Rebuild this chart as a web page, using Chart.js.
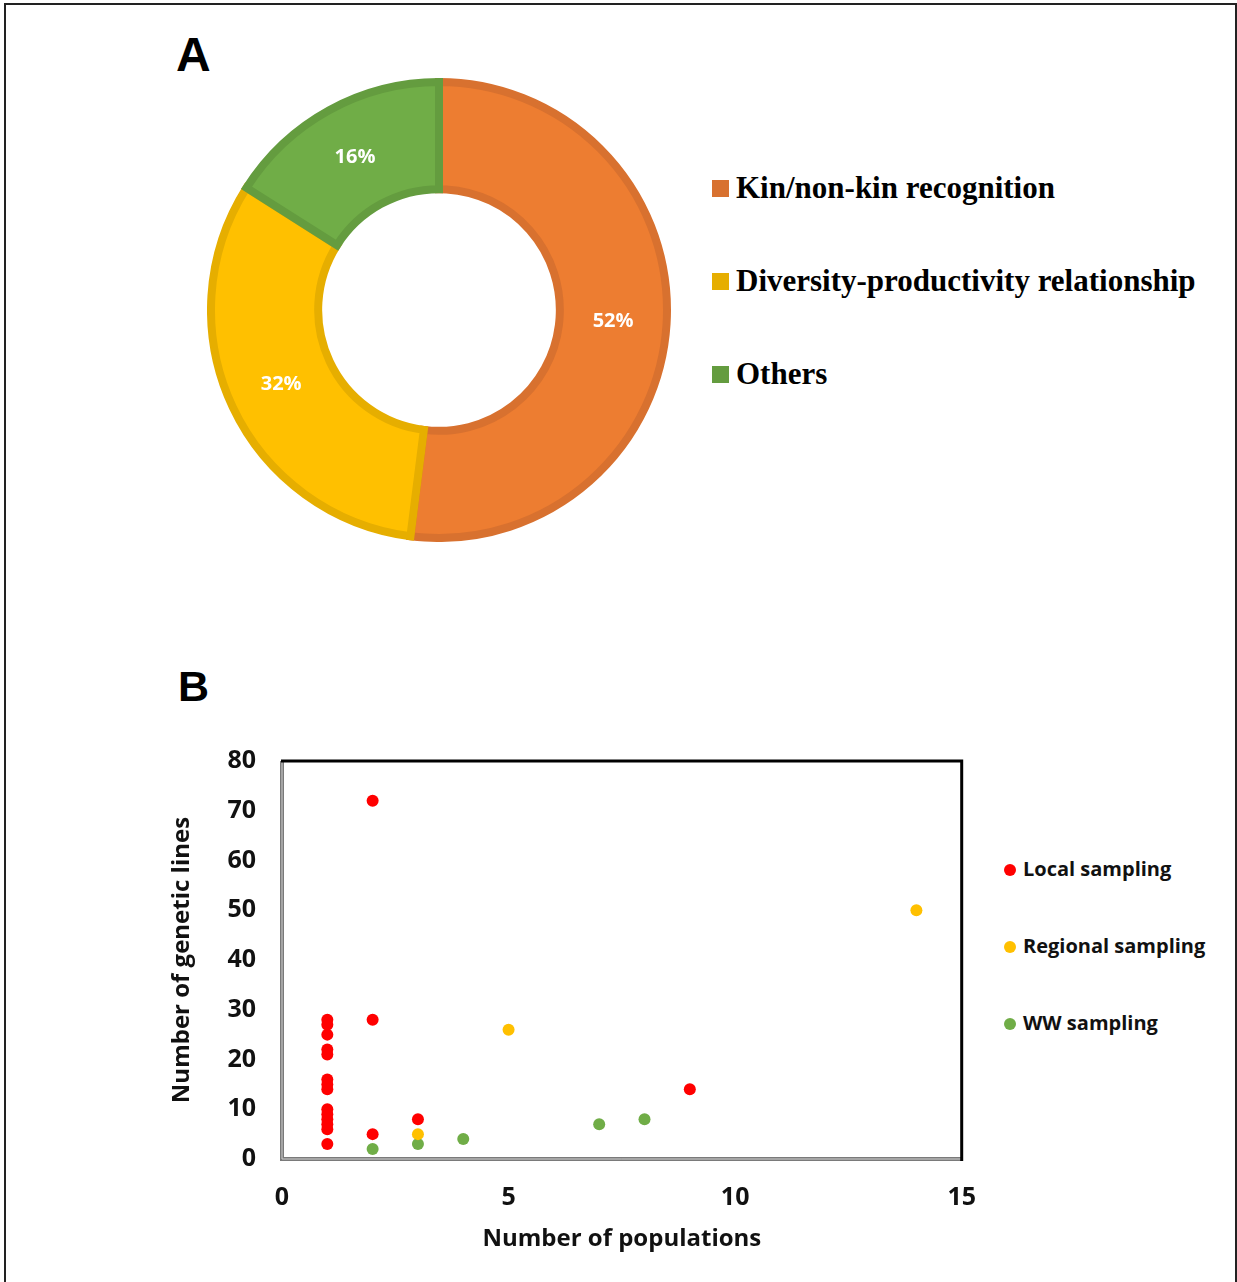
<!DOCTYPE html>
<html>
<head>
<meta charset="utf-8">
<script src="https://cdn.jsdelivr.net/npm/chart.js@4.4.1/dist/chart.umd.min.js"></script>
<style>
  html, body { margin: 0; padding: 0; background: #fff; }
  #page { position: relative; width: 1237px; height: 1282px; overflow: hidden; background: #fff; }
  #frame { position: absolute; left: 4px; top: 3px; width: 1233px; height: 1295px; box-sizing: border-box; border: 2px solid #222; }
  .panel { position: absolute; font-family: "Liberation Sans", Arial, sans-serif; font-weight: bold; color: #000; line-height: 1; }
  .legA { position: absolute; font-family: "Liberation Serif", "Times New Roman", serif; font-weight: bold; font-size: 31px; line-height: 31px; color: #000; white-space: nowrap; }
  .sqA { position: absolute; width: 17px; height: 17px; }
  .legB { position: absolute; font-family: "Open Sans", Lato, sans-serif; font-weight: bold; font-size: 20px; line-height: 24px; color: #111; white-space: nowrap; }
  .dotB { position: absolute; width: 12px; height: 12px; border-radius: 50%; }
  canvas { position: absolute; }
</style>
</head>
<body>
<div id="page">
  <div id="frame"></div>
  <div class="panel" style="left:176px; top:31px; font-size:48px;">A</div>
  <div class="panel" style="left:178px; top:665px; font-size:43px;">B</div>

  <canvas id="donut" width="464" height="464" style="left:207px; top:78px; width:464px; height:464px;"></canvas>
  <div id="legendA"></div>

  <canvas id="scatter" width="850" height="546" style="left:150px; top:720px; width:850px; height:546px;"></canvas>
  <div id="legendB"></div>
</div>
<script>
// ---------- Data: panel A (doughnut) ----------
const topicLabels = ['Kin/non-kin recognition', 'Diversity-productivity relationship', 'Others'];
const topicShares = [52, 32, 16];
const topicFill = ['#ED7D31', '#FFC000', '#70AD47'];
const topicBorder = ['#D8712F', '#E6AE00', '#649C3F'];

// ---------- Data: panel B (scatter) ----------
const seriesNames = ['Local sampling', 'Regional sampling', 'WW sampling'];
const seriesColors = ['#FF0000', '#FFC000', '#70AD47'];
const localX = [1, 1, 1, 1, 1, 1, 1, 1, 1, 1, 1, 1, 1, 1, 2, 2, 2, 3, 9];
const localY = [28, 27, 25, 22, 21, 16, 15, 14, 10, 9, 8, 7, 6, 3, 72, 28, 5, 8, 14];
const regionalX = [3, 5, 14];
const regionalY = [5, 26, 50];
const wwX = [2, 3, 4, 7, 8];
const wwY = [2, 3, 4, 7, 8];
const xTicks = [0, 5, 10, 15];
const yTicks = [0, 10, 20, 30, 40, 50, 60, 70, 80];

function pts(xs, ys) { return xs.map((x, i) => ({ x: x, y: ys[i] })); }

// ---------- Panel A ----------
const pctLabelPlugin = {
  id: 'pctLabels',
  afterDatasetsDraw(chart) {
    const ctx = chart.ctx;
    const meta = chart.getDatasetMeta(0);
    const total = topicShares.reduce((a, b) => a + b, 0);
    ctx.save();
    ctx.fillStyle = '#ffffff';
    ctx.font = 'bold 20px "Open Sans", Lato, sans-serif';
    ctx.textAlign = 'center';
    ctx.textBaseline = 'middle';
    meta.data.forEach((arc, i) => {
      const p = arc.tooltipPosition();
      ctx.fillText(Math.round(topicShares[i] / total * 100) + '%', p.x, p.y);
    });
    ctx.restore();
  }
};

new Chart(document.getElementById('donut'), {
  type: 'doughnut',
  data: {
    labels: topicLabels,
    datasets: [{
      data: topicShares,
      backgroundColor: topicFill,
      borderColor: topicBorder,
      borderWidth: 8,
      borderJoinStyle: 'miter',
      hoverOffset: 0,
      hoverBorderWidth: 8
    }]
  },
  options: {
    responsive: false,
    animation: false,
    cutout: '53%',
    layout: { padding: 0 },
    plugins: { legend: { display: false }, tooltip: { enabled: false } }
  },
  plugins: [pctLabelPlugin]
});

const legA = document.getElementById('legendA');
const legATops = [172, 265, 358];
topicLabels.forEach((t, i) => {
  const sq = document.createElement('div');
  sq.className = 'sqA';
  sq.style.left = '712px';
  sq.style.top = (legATops[i] + 8) + 'px';
  sq.style.background = topicBorder[i];
  legA.appendChild(sq);
  const tx = document.createElement('div');
  tx.className = 'legA';
  tx.style.left = '736px';
  tx.style.top = legATops[i] + 'px';
  tx.textContent = t;
  legA.appendChild(tx);
});

// ---------- Panel B ----------
const frameBoxPlugin = {
  id: 'frameBox',
  beforeDatasetsDraw(chart) {
    const { ctx, chartArea: a } = chart;
    ctx.save();
    ctx.strokeStyle = '#7a7a7a';
    ctx.lineWidth = 4;
    ctx.beginPath();
    ctx.moveTo(a.left, a.top);
    ctx.lineTo(a.left, a.bottom);
    ctx.lineTo(a.right, a.bottom);
    ctx.stroke();
    ctx.strokeStyle = '#d0d0d0';
    ctx.lineWidth = 1;
    ctx.beginPath();
    ctx.moveTo(a.left, a.top);
    ctx.lineTo(a.left, a.bottom);
    ctx.lineTo(a.right, a.bottom);
    ctx.stroke();
    ctx.strokeStyle = '#000';
    ctx.lineWidth = 3;
    ctx.beginPath();
    ctx.moveTo(a.left - 1, a.top);
    ctx.lineTo(a.right, a.top);
    ctx.lineTo(a.right, a.bottom + 2);
    ctx.stroke();
    ctx.restore();
  }
};

const tickFont = { family: '"Open Sans", Lato, sans-serif', size: 25, weight: 'bold' };
const titleFont = { family: '"Open Sans", Lato, sans-serif', size: 24, weight: 'bold' };

new Chart(document.getElementById('scatter'), {
  type: 'scatter',
  data: {
    datasets: [
      { label: seriesNames[0], data: pts(localX, localY), backgroundColor: seriesColors[0], pointRadius: 6, pointHoverRadius: 6, pointBorderWidth: 0 },
      { label: seriesNames[1], data: pts(regionalX, regionalY), backgroundColor: seriesColors[1], pointRadius: 6, pointHoverRadius: 6, pointBorderWidth: 0 },
      { label: seriesNames[2], data: pts(wwX, wwY), backgroundColor: seriesColors[2], pointRadius: 6, pointHoverRadius: 6, pointBorderWidth: 0 }
    ]
  },
  options: {
    responsive: false,
    animation: false,
    layout: { padding: { top: 20, right: 22, left: 0, bottom: 0 } },
    plugins: { legend: { display: false }, tooltip: { enabled: false } },
    scales: {
      x: {
        type: 'linear',
        min: xTicks[0],
        max: xTicks[xTicks.length - 1],
        afterBuildTicks: (s) => { s.ticks = xTicks.map(v => ({ value: v })); },
        afterFit: (s) => { s.height = 107; },
        grid: { display: false, drawTicks: false },
        border: { display: false },
        ticks: { font: tickFont, color: '#111', padding: 24, maxRotation: 0 },
        title: { display: true, text: 'Number of populations', font: titleFont, color: '#111', padding: { top: 0, bottom: 12 } }
      },
      y: {
        type: 'linear',
        min: yTicks[0],
        max: yTicks[yTicks.length - 1],
        afterBuildTicks: (s) => { s.ticks = yTicks.map(v => ({ value: v })); },
        afterFit: (s) => { s.width = 132; },
        grid: { display: false, drawTicks: false },
        border: { display: false },
        ticks: { font: tickFont, color: '#111', padding: 26 },
        title: { display: true, text: 'Number of genetic lines', font: titleFont, color: '#111', padding: { top: 18, bottom: 0 } }
      }
    }
  },
  plugins: [frameBoxPlugin]
});

const legB = document.getElementById('legendB');
const legBCenters = [870, 947, 1024];
seriesNames.forEach((t, i) => {
  const d = document.createElement('div');
  d.className = 'dotB';
  d.style.left = '1004px';
  d.style.top = (legBCenters[i] - 6) + 'px';
  d.style.background = seriesColors[i];
  legB.appendChild(d);
  const tx = document.createElement('div');
  tx.className = 'legB';
  tx.style.left = '1023px';
  tx.style.top = (legBCenters[i] - 13) + 'px';
  tx.textContent = t;
  legB.appendChild(tx);
});
</script>
</body>
</html>
